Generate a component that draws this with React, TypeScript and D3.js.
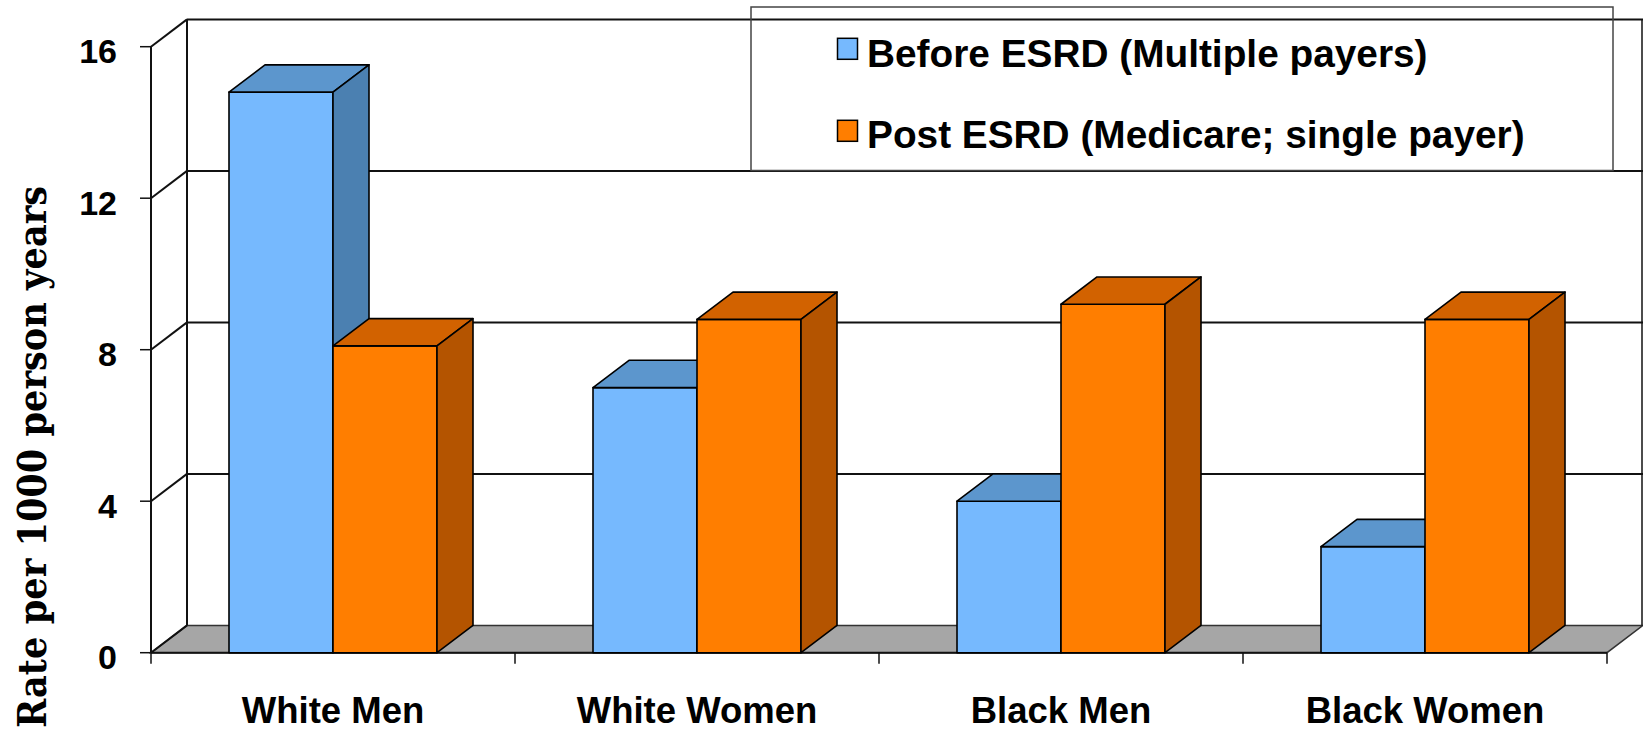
import { useEffect, useRef } from 'react';
import * as d3 from 'd3';

const categories = ['White Men', 'White Women', 'Black Men', 'Black Women'];
const beforeEsrd = [14.8, 7.0, 4.0, 2.8];
const postEsrd = [8.1, 8.8, 9.2, 8.8];
const seriesNames = ['Before ESRD (Multiple payers)', 'Post ESRD (Medicare; single payer)'];
const yTicks = [0, 4, 8, 12, 16];

const W = 1643;
const H = 731;

export default function App() {
  const svgRef = useRef<SVGSVGElement>(null);

  useEffect(() => {
    if (!svgRef.current) return;
    const svg = d3.select(svgRef.current);
    svg.selectAll('*').remove();

    const left = 151;
    const right = 1607;
    // depth offset of the 3d box
    const dx = 36;
    const dy = -27.3;

    const y = d3.scaleLinear().domain([0, 16]).range([652.7, 46.7]);
    const x0 = d3.scaleBand<string>()
      .domain(categories)
      .range([left, right])
      .paddingInner(156 / 364)
      .paddingOuter(78 / 364);
    const x1 = d3.scaleBand<string>().domain(seriesNames).range([0, x0.bandwidth()]);
    const step = x0.step();

    const fronts = ['#76B9FE', '#FF7E00'];
    const tops = ['#5C96CD', '#D26200'];
    const sides = ['#4B80B1', '#B45400'];

    const pts = (p: [number, number][]) => p.map(d => d.join(',')).join(' ');

    // floor
    svg.append('polygon')
      .attr('points', pts([[left, y(0)], [right, y(0)], [right + dx, y(0) + dy], [left + dx, y(0) + dy]]))
      .attr('fill', '#A6A6A6')
      .attr('stroke', '#333')
      .attr('stroke-width', 1.5);

    // back wall grid + left wall diagonals
    const grid = svg.append('g').attr('stroke', '#111').attr('stroke-width', 2).attr('fill', 'none');
    yTicks.forEach(t => {
      if (t > 0) {
        grid.append('line')
          .attr('x1', left + dx).attr('x2', W)
          .attr('y1', y(t) + dy).attr('y2', y(t) + dy);
      }
      grid.append('line')
        .attr('x1', left).attr('x2', left + dx)
        .attr('y1', y(t)).attr('y2', y(t) + dy);
    });
    grid.append('line')
      .attr('x1', left + dx).attr('x2', left + dx)
      .attr('y1', y(16) + dy).attr('y2', y(0) + dy);
    grid.append('line')
      .attr('x1', W - 1).attr('x2', W - 1)
      .attr('y1', y(16) + dy).attr('y2', y(0) + dy)
      .attr('stroke-width', 1.5);

    // y axis
    const yAxis = svg.append('g');
    yAxis.append('line')
      .attr('x1', left).attr('x2', left)
      .attr('y1', y(16)).attr('y2', y(0))
      .attr('stroke', '#111').attr('stroke-width', 2);
    yTicks.forEach(t => {
      yAxis.append('line')
        .attr('x1', left - 11).attr('x2', left)
        .attr('y1', y(t)).attr('y2', y(t))
        .attr('stroke', '#111').attr('stroke-width', 1.5);
      yAxis.append('text')
        .attr('x', 117)
        .attr('y', y(t) + 16.5)
        .attr('text-anchor', 'end')
        .attr('font-family', 'Liberation Sans, Arial, sans-serif')
        .attr('font-weight', 'bold')
        .attr('font-size', 34)
        .attr('fill', '#000')
        .text(t);
    });

    // x axis baseline + ticks
    svg.append('line')
      .attr('x1', left).attr('x2', right)
      .attr('y1', y(0)).attr('y2', y(0))
      .attr('stroke', '#111').attr('stroke-width', 2);
    d3.range(categories.length + 1).forEach(i => {
      const xx = left + i * step;
      svg.append('line')
        .attr('x1', xx).attr('x2', xx)
        .attr('y1', y(0)).attr('y2', y(0) + 11)
        .attr('stroke', '#111').attr('stroke-width', 1.5);
    });

    // bars
    const bars = svg.append('g').attr('stroke', '#000').attr('stroke-width', 1.6).attr('stroke-linejoin', 'round');
    categories.forEach((c, i) => {
      [beforeEsrd[i], postEsrd[i]].forEach((v, s) => {
        const bx = (x0(c) as number) + (x1(seriesNames[s]) as number);
        const bw = x1.bandwidth();
        const ty = y(v);
        bars.append('rect')
          .attr('x', bx).attr('y', ty)
          .attr('width', bw).attr('height', y(0) - ty)
          .attr('fill', fronts[s]);
        bars.append('polygon')
          .attr('points', pts([[bx, ty], [bx + bw, ty], [bx + bw + dx, ty + dy], [bx + dx, ty + dy]]))
          .attr('fill', tops[s]);
        bars.append('polygon')
          .attr('points', pts([[bx + bw, ty], [bx + bw + dx, ty + dy], [bx + bw + dx, y(0) + dy], [bx + bw, y(0)]]))
          .attr('fill', sides[s]);
      });
    });

    // category labels
    categories.forEach((c, i) => {
      svg.append('text')
        .attr('x', left + i * step + step / 2)
        .attr('y', 723)
        .attr('text-anchor', 'middle')
        .attr('font-family', 'Liberation Sans, Arial, sans-serif')
        .attr('font-weight', 'bold')
        .attr('font-size', 36.5)
        .attr('fill', '#000')
        .text(c);
    });

    // y title
    svg.append('text')
      .attr('transform', 'translate(46,457) rotate(-90)')
      .attr('text-anchor', 'middle')
      .attr('font-family', 'DejaVu Serif, serif')
      .attr('font-weight', 'bold')
      .attr('font-size', 39)
      .attr('textLength', 542)
      .attr('lengthAdjust', 'spacingAndGlyphs')
      .attr('fill', '#000')
      .text('Rate per 1000 person years');

    // legend
    const lg = svg.append('g');
    lg.append('rect')
      .attr('x', 751).attr('y', 7)
      .attr('width', 862).attr('height', 163.5)
      .attr('fill', 'none')
      .attr('stroke', '#444')
      .attr('stroke-width', 1.5);
    seriesNames.forEach((name, s) => {
      const top = s === 0 ? 38.3 : 120.3;
      lg.append('rect')
        .attr('x', 837.5).attr('y', top)
        .attr('width', 20).attr('height', 21)
        .attr('fill', fronts[s])
        .attr('stroke', '#000')
        .attr('stroke-width', 1.5);
      lg.append('text')
        .attr('x', 867)
        .attr('y', s === 0 ? 66.7 : 148.3)
        .attr('font-family', 'Liberation Sans, Arial, sans-serif')
        .attr('font-weight', 'bold')
        .attr('font-size', 38.8)
        .attr('fill', '#000')
        .text(name);
    });
  }, []);

  return (
    <svg
      ref={svgRef}
      width={W}
      height={H}
      viewBox={`0 0 ${W} ${H}`}
      style={{ position: 'absolute', left: 0, top: 0, background: '#fff' }}
    />
  );
}
